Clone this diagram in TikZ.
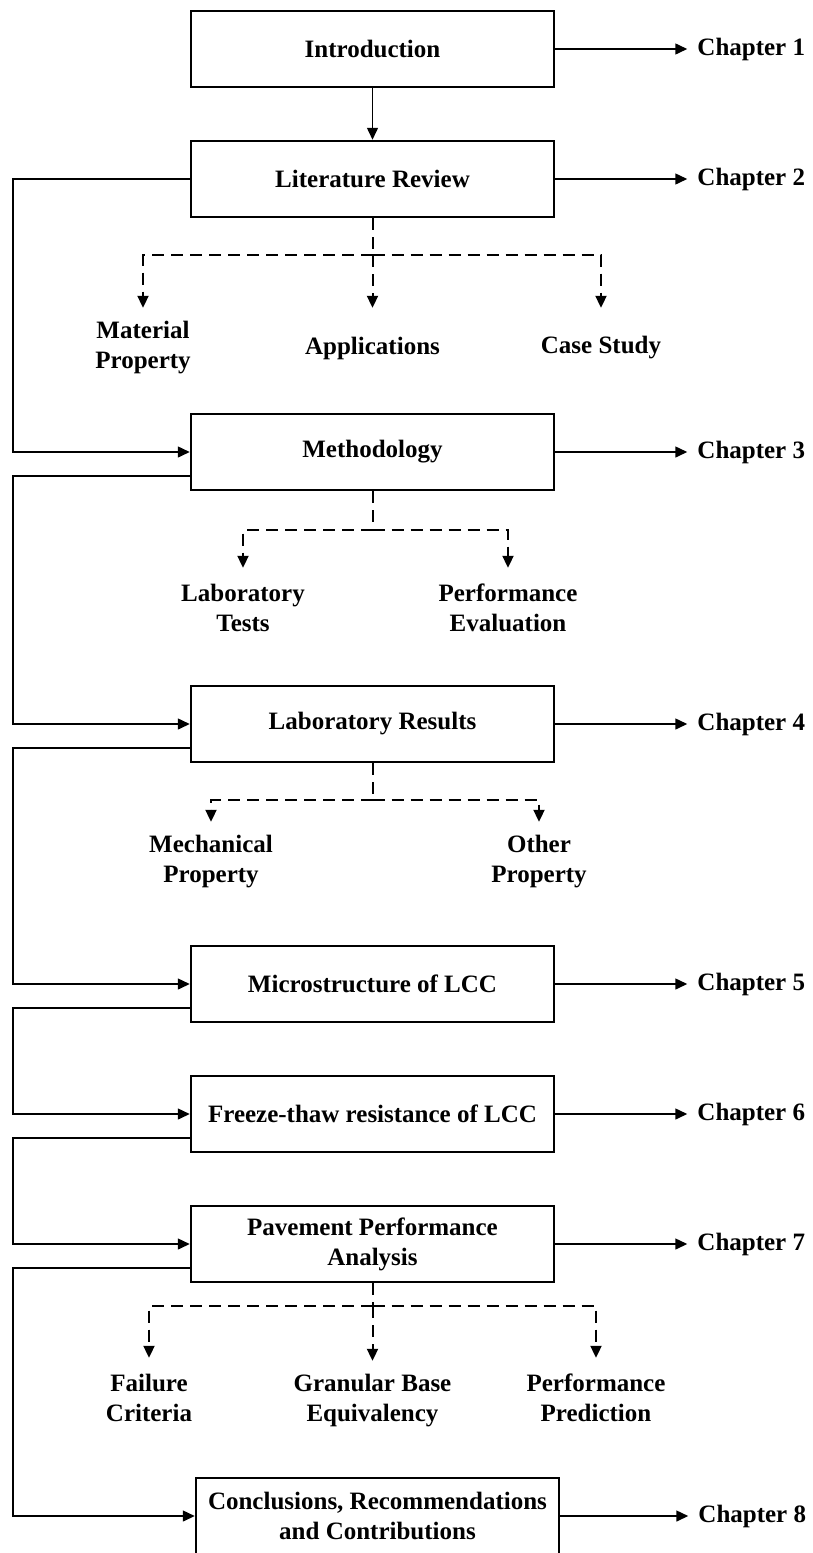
\documentclass[tikz,border=0pt]{standalone}
\usepackage{fontspec}
\setmainfont{Liberation Serif}
\usetikzlibrary{positioning,arrows.meta}

\tikzset{
  chbox/.style={draw,line width=2.5pt,minimum width=363pt,minimum height=76pt,align=center,inner sep=2pt},
  conn/.style={line width=1.5pt},
  dsh/.style={line width=2pt,dash pattern=on 12pt off 7pt},
  tip/.style={-{Triangle[length=12pt,width=11pt]}},
  sub/.style={align=center,minimum height=80pt,inner sep=0pt},
  chap/.style={anchor=west,inner xsep=10pt,inner ysep=0pt}
}

\begin{document}
\begin{tikzpicture}[x=1pt,y=-1pt,font=\bfseries\fontsize{25}{30}\selectfont]
  \useasboundingbox (0,0) rectangle (812,1553);
  \coordinate (rail) at (13,0);

  \node[chbox] (intro)  at (372.5,49)   {Introduction};
  \node[chbox] (lit)    at (372.5,179)  {Literature Review};
  \node[chbox] (meth)   at (372.5,452)  {Methodology};
  \node[chbox] (lab)    at (372.5,724)  {Laboratory Results};
  \node[chbox] (micro)  at (372.5,984)  {Microstructure of LCC};
  \node[chbox] (freeze) at (372.5,1114) {Freeze-thaw resistance of LCC};
  \node[chbox] (pave)   at (372.5,1244) {Pavement Performance\\Analysis};
  \node[chbox] (concl)  at (377.5,1516) {Conclusions, Recommendations\\and Contributions};

  \node[chap,right=132pt of intro]  (c1) {Chapter 1};
  \node[chap,right=132pt of lit]    (c2) {Chapter 2};
  \node[chap,right=132pt of meth]   (c3) {Chapter 3};
  \node[chap,right=132pt of lab]    (c4) {Chapter 4};
  \node[chap,right=132pt of micro]  (c5) {Chapter 5};
  \node[chap,right=132pt of freeze] (c6) {Chapter 6};
  \node[chap,right=132pt of pave]   (c7) {Chapter 7};
  \node[chap,right=128pt of concl]  (c8) {Chapter 8};

  \node[sub] (matprop) at (143,348) {Material\\Property};
  \node[sub] (appl)    at (372.5,348) {Applications};
  \node[sub] (case)    at (601,348) {Case Study};
  \node[sub] (labtest) at (243,608) {Laboratory\\Tests};
  \node[sub] (perfev)  at (508,608) {Performance\\Evaluation};
  \node[sub] (mechpr)  at (211,862) {Mechanical\\Property};
  \node[sub] (othpr)   at (539,862) {Other\\Property};
  \node[sub] (fail)    at (149,1398) {Failure\\Criteria};
  \node[sub] (gbe)     at (372.5,1401) {Granular Base\\Equivalency};
  \node[sub] (pred)    at (596,1398) {Performance\\Prediction};

  \coordinate (j1) at (372.5,255);
  \coordinate (j2) at (372.5,530);
  \coordinate (j3) at (372.5,800);
  \coordinate (j4) at (372.5,1306);

  \begin{scope}[conn,tip]
  \draw (intro) -- (lit);
  \foreach \b/\c in {intro/c1,lit/c2,meth/c3,lab/c4,micro/c5,freeze/c6,pave/c7,concl/c8}
    \draw (\b.east) -- (\c.west);
  \draw (lit.west) -- (lit.west -| rail) |- (meth.west);
  \foreach \a/\b in {meth/lab,lab/micro,micro/freeze,freeze/pave,pave/concl}
    \draw ([yshift=-24pt]\a.west) -- ([yshift=-24pt]\a.west -| rail) |- (\b.west);
  \end{scope}

  \begin{scope}[dsh]
  \draw (lit.south) -- (j1);
  \draw[tip] (j1) -| (matprop.north);
  \draw[tip] (j1) -- (appl.north);
  \draw[tip] (j1) -| (case.north);
  \draw (meth.south) -- (j2);
  \draw[tip] (j2) -| (labtest.north);
  \draw[tip] (j2) -| (perfev.north);
  \draw (lab.south) -- (j3);
  \draw[tip] (j3) -| (mechpr.north);
  \draw[tip] (j3) -| (othpr.north);
  \draw (pave.south) -- (j4);
  \draw[tip] (j4) -| (fail.north);
  \draw[tip] (j4) -- (gbe.north);
  \draw[tip] (j4) -| (pred.north);
  \end{scope}
\end{tikzpicture}
\end{document}
